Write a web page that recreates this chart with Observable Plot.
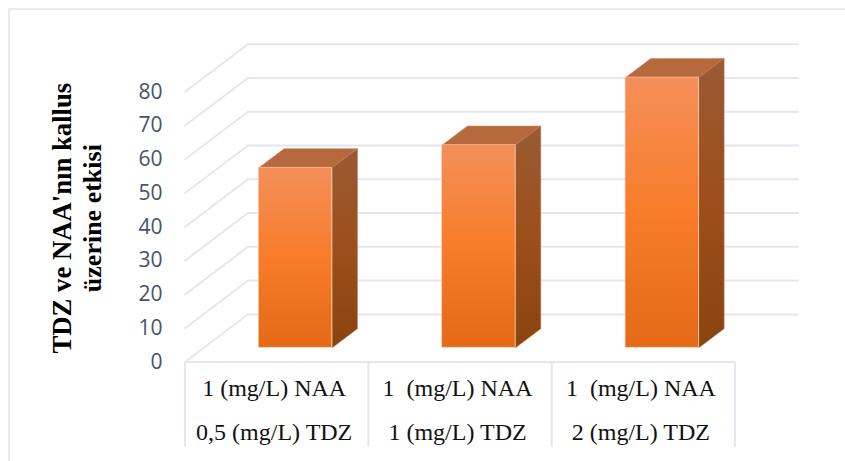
<!DOCTYPE html>
<html>
<head>
<meta charset="utf-8">
<script src="https://cdn.jsdelivr.net/npm/d3@7"></script>
<script src="https://cdn.jsdelivr.net/npm/@observablehq/plot@0.6"></script>
<style>
  html, body { margin: 0; padding: 0; background: #fff; width: 845px; height: 461px; overflow: hidden; }
  #frame { position: absolute; left: 8px; top: 7.5px; width: 900px; height: 600px; border: 2px solid #e8ebf1; box-sizing: border-box; }
  #chart { position: absolute; left: 0; top: 0; }
  #chart svg { background: transparent; display: block; }
</style>
</head>
<body>
<div id="frame"></div>
<div id="chart"></div>
<script>
// Chart values
const firstLine = ["1 (mg/L) NAA", "1  (mg/L) NAA", "1  (mg/L) NAA"];
const secondLine = ["0,5 (mg/L) TDZ", "1 (mg/L) TDZ", "2 (mg/L) TDZ"];
const values = [53.3, 60, 80];
const tickValues = [0, 10, 20, 30, 40, 50, 60, 70, 80];
const categoryEdges = [0, 1, 2, 3];
const yTitle = ["TDZ ve NAA'nın kallus", "üzerine etkisi"];

// Oblique projection of the 3D chart box, in data units
const depthX = 0.3433;   // categories per full depth
const depthY = 14.1;     // value units per full depth
const barFront = 0.3, barBack = 0.7, barHalf = 0.2;
const project = (c, v, d) => ({x: c + d * depthX, y: v + d * depthY});

const backLines = tickValues.flatMap((v) => [
  {...project(0, v, 1), v, order: 0},
  {...project(3, v, 1), v, order: 1}
]);
const sideLines = tickValues.flatMap((v) => [
  {...project(0, v, 0), v},
  {...project(0, v, 1), v}
]);
const bars = values.map((v, i) => ({
  i, v,
  x1: project(i + 0.5 - barHalf, 0, barFront).x,
  x2: project(i + 0.5 + barHalf, 0, barFront).x,
  y1: project(0, 0, barFront).y,
  y2: project(0, v, barFront).y
}));
const topFaces = values.flatMap((v, i) => [
  {i, ...project(i + 0.5 - barHalf, v, barFront)},
  {i, ...project(i + 0.5 + barHalf, v, barFront)},
  {i, ...project(i + 0.5 + barHalf, v, barBack)},
  {i, ...project(i + 0.5 - barHalf, v, barBack)},
  {i, ...project(i + 0.5 - barHalf, v, barFront)}
]);
const sideFaces = values.flatMap((v, i) => [
  {i, ...project(i + 0.5 + barHalf, 0, barFront)},
  {i, ...project(i + 0.5 + barHalf, v, barFront)},
  {i, ...project(i + 0.5 + barHalf, v, barBack)},
  {i, ...project(i + 0.5 + barHalf, 0, barBack)},
  {i, ...project(i + 0.5 + barHalf, 0, barFront)}
]);
const labels1 = firstLine.map((t, i) => ({t, c: i + 0.5}));
const labels2 = secondLine.map((t, i) => ({t, c: i + 0.5}));

const gridColor = "#e3e6ee";
const defs = () => {
  const g = document.createElementNS("http://www.w3.org/2000/svg", "g");
  g.innerHTML = `<defs>
    <linearGradient id="frontGrad" x1="0" y1="0" x2="0" y2="1">
      <stop offset="0" stop-color="#f48f5a"/>
      <stop offset="0.5" stop-color="#f87c2a"/>
      <stop offset="1" stop-color="#e46a17"/>
    </linearGradient>
    <linearGradient id="sideGrad" x1="0" y1="0" x2="0" y2="1">
      <stop offset="0" stop-color="#9a5a33"/>
      <stop offset="0.5" stop-color="#9c4f1b"/>
      <stop offset="1" stop-color="#8a440f"/>
    </linearGradient>
  </defs>`;
  return g;
};

const serif = "'Liberation Serif', serif";
const plot = Plot.plot({
  width: 845,
  height: 461,
  marginLeft: 184.5,
  marginRight: 47.5,
  marginTop: 43.7,
  marginBottom: 99.5,
  style: {background: "transparent", overflow: "visible"},
  x: {type: "linear", domain: [0, 3 + depthX], axis: null},
  y: {type: "linear", domain: [0, 80 + depthY], axis: null},
  marks: [
    defs,
    // walls
    Plot.line(backLines, {x: "x", y: "y", z: "v", stroke: gridColor, strokeWidth: 2}),
    Plot.line(sideLines, {x: "x", y: "y", z: "v", stroke: gridColor, strokeWidth: 1.8}),
    // category table under the floor
    Plot.ruleY([0], {x1: 0, x2: 3, stroke: gridColor, strokeWidth: 2.2}),
    Plot.ruleX(categoryEdges, {y1: 0, y2: -25.2, stroke: gridColor, strokeWidth: 2}),
    // bars
    Plot.line(topFaces, {x: "x", y: "y", z: "i", fill: "#b7693e", stroke: "#c98a66", strokeWidth: 0.6}),
    Plot.line(sideFaces, {x: "x", y: "y", z: "i", fill: "url(#sideGrad)", stroke: "#b5784f", strokeWidth: 0.6}),
    Plot.rect(bars, {x1: "x1", x2: "x2", y1: "y1", y2: "y2", fill: "url(#frontGrad)", stroke: "#fbc9a6", strokeWidth: 0.6}),
    // value axis
    Plot.axisY({
      ticks: tickValues,
      tickSize: 0,
      tickPadding: 22.5,
      label: null,
      fontSize: 21,
      fontFamily: "'Open Sans', sans-serif",
      fill: "#44546a"
    }),
    // category labels
    Plot.text(labels1, {x: "c", y: -7.8, text: "t", dx: -2.5, fontSize: 24, fontFamily: serif, fill: "#111"}),
    Plot.text(labels2, {x: "c", y: -20.7, text: "t", dx: -2.5, fontSize: 24, fontFamily: serif, fill: "#111"}),
    // value-axis title
    Plot.text([yTitle[0]], {x: -0.667, y: 42.6, text: (d) => d, rotate: -90, fontSize: 26.7, fontWeight: "bold", fontFamily: serif, fill: "#000"}),
    Plot.text([yTitle[1]], {x: -0.503, y: 42.6, text: (d) => d, rotate: -90, fontSize: 26, fontWeight: "bold", fontFamily: serif, fill: "#000"})
  ]
});
document.getElementById("chart").append(plot);
</script>
</body>
</html>
